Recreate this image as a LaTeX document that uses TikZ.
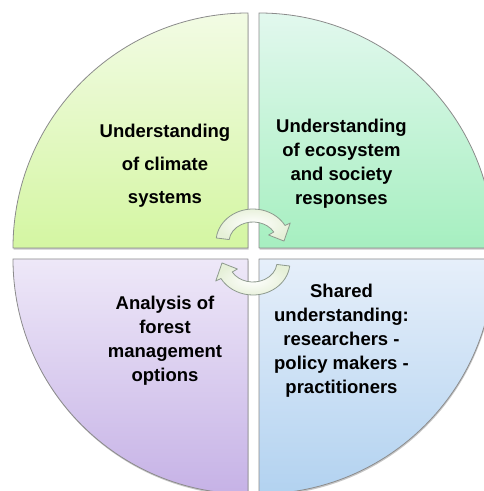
\documentclass[tikz,border=0pt]{standalone}
\usepackage{fontspec}
\setmainfont{Liberation Sans}
\usetikzlibrary{calc}
\definecolor{tlTop}{HTML}{F2FBE4}
\definecolor{tlBot}{HTML}{D4F6A2}
\definecolor{trTop}{HTML}{E2F8EE}
\definecolor{trBot}{HTML}{A6EFC0}
\definecolor{blTop}{HTML}{EEE8F8}
\definecolor{blBot}{HTML}{C6B2E6}
\definecolor{brTop}{HTML}{E6EFFA}
\definecolor{brBot}{HTML}{B2D2F0}
\definecolor{edgeGray}{HTML}{8C8C8C}
\definecolor{arrowEdge}{HTML}{8E9A8E}
\definecolor{arrowFill}{HTML}{E6F0D8}
\tikzset{
  quad/.style={draw=edgeGray, line width=0.8pt, line join=round},
  qshadow/.style={fill=black, opacity=0.22},
  label/.style={font=\bfseries\fontsize{18.5}{24}\selectfont, align=center, text=black},
  ringarrow/.style={draw=arrowEdge, line width=0.8pt, line join=round, inner color=white, outer color=arrowFill},
}
\def\qTL{(248,243) -- (13,243) arc[start angle=180,end angle=90,radius=235] -- cycle}
\def\qTR{(259,243) -- (259,478) arc[start angle=90,end angle=0,radius=235] -- cycle}
\def\qBL{(248,232) -- (13,232) arc[start angle=180,end angle=270,radius=235] -- cycle}
\def\qBR{(259,232) -- (494,232) arc[start angle=0,end angle=-90,radius=235] -- cycle}
\begin{document}
\begin{tikzpicture}[x=1pt,y=1pt]
\useasboundingbox (0,0) rectangle (484,491);
\clip (0,0) rectangle (484,491);
\fill[white] (0,0) rectangle (484,491);
% shadows
\fill[qshadow, shift={(0.6,-1.6)}] \qTL;
\fill[qshadow, shift={(0.6,-1.6)}] \qTR;
\fill[qshadow, shift={(0.6,-1.6)}] \qBL;
\fill[qshadow, shift={(0.6,-1.6)}] \qBR;
% quadrants
\path[quad, top color=tlTop, bottom color=tlBot] \qTL;
\path[quad, top color=trTop, bottom color=trBot] \qTR;
\path[quad, top color=blTop, bottom color=blBot] \qBL;
\path[quad, top color=brTop, bottom color=brBot] \qBR;
% labels
\node[label] (tl) at (165,325) {Understanding\\[9pt]of climate\\[9pt]systems};
\node[label] (tr) at (341.5,327) {Understanding\\of ecosystem\\and society\\responses};
\node[label] (bl) at (165,150) {Analysis of\\forest\\management\\options};
\node[label] (br) at (341.5,150.5) {Shared\\understanding:\\researchers -\\policy makers -\\practitioners};
% cycle arrows
\coordinate (ca) at (253,249);
\coordinate (cb) at (253,229);
\path[ringarrow] ($(ca)+(173:37 and 33)$) arc[start angle=173,end angle=30,x radius=37,y radius=33]
  -- ($(ca)+(30:43 and 38)$) -- ($(ca)+(2:31 and 27)$) -- ($(ca)+(30:18 and 14)$)
  -- ($(ca)+(30:24 and 20)$) arc[start angle=30,end angle=173,x radius=24,y radius=20] -- cycle;
\path[ringarrow] ($(cb)+(-7:37 and 33)$) arc[start angle=-7,end angle=-150,x radius=37,y radius=33]
  -- ($(cb)+(-150:43 and 38)$) -- ($(cb)+(-178:31 and 27)$) -- ($(cb)+(-150:18 and 14)$)
  -- ($(cb)+(-150:24 and 20)$) arc[start angle=-150,end angle=-7,x radius=24,y radius=20] -- cycle;
\end{tikzpicture}
\end{document}
